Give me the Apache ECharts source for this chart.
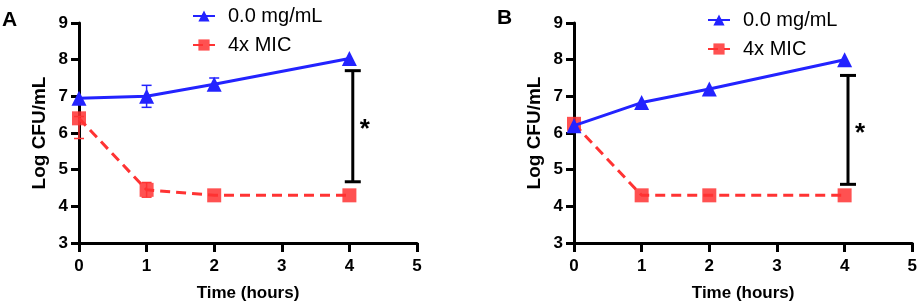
<!DOCTYPE html>
<html>
<head>
<meta charset="utf-8">
<script src="https://cdn.jsdelivr.net/npm/echarts@6/dist/echarts.min.js"></script>
<style>
  html, body { margin: 0; padding: 0; background: #fff; }
  #main { width: 920px; height: 307px; }
</style>
</head>
<body>
<div id="main"></div>
<script>
// time points (hours)
var hours = [0, 1, 2, 4]
var xTicks = [0, 1, 2, 3, 4, 5]
var yTicks = [3, 4, 5, 6, 7, 8, 9]

// panel A
var ctrlA = [6.95, 7.0, 7.33, 8.03]
var ctrlErrA = [[1, 6.7, 7.3], [2, 7.18, 7.5]]
var micA = [6.4, 4.45, 4.3, 4.3]
var micErrA = [[0, 5.85, 6.45], [1, 4.25, 4.65]]
var sigA = [[4.05, 4.67, 7.7]]

// panel B
var ctrlB = [6.2, 6.83, 7.2, 8.0]
var micB = [6.25, 4.3, 4.3, 4.3]
var sigB = [[4.05, 4.6, 7.57]]

var blue = '#2323ff'
var red = '#ff3333'
var font = '"Liberation Sans", Arial, sans-serif'

function pairs (ys) {
  return ys.map(function (v, i) { return [hours[i], v] })
}

function errBar (color, capW, lw, star) {
  return function (params, api) {
    var x = api.value(0)
    var lo = api.coord([x, api.value(1)])
    var hi = api.coord([x, api.value(2)])
    var children = [
      { type: 'line', shape: { x1: lo[0], y1: lo[1], x2: hi[0], y2: hi[1] }, style: { stroke: color, lineWidth: lw } },
      { type: 'line', shape: { x1: lo[0] - capW, y1: lo[1], x2: lo[0] + capW, y2: lo[1] }, style: { stroke: color, lineWidth: lw } },
      { type: 'line', shape: { x1: hi[0] - capW, y1: hi[1], x2: hi[0] + capW, y2: hi[1] }, style: { stroke: color, lineWidth: lw } }
    ]
    if (star) {
      children.push({
        type: 'text',
        style: { text: '*', x: lo[0] + 12, y: (lo[1] + hi[1]) / 2 + 4, fill: '#000', font: 'bold 26px ' + font, textAlign: 'center', textVerticalAlign: 'middle' }
      })
    }
    return { type: 'group', children: children }
  }
}

function xAxisOpt (gi) {
  return {
    type: 'value', gridIndex: gi, min: 0, max: 5, interval: 1,
    name: 'Time (hours)', nameLocation: 'middle', nameGap: 42,
    nameTextStyle: { fontSize: 17, fontWeight: 'bold', color: '#000', fontFamily: font },
    axisLine: { lineStyle: { color: '#000', width: 3 } },
    axisTick: { show: true, length: 9, lineStyle: { width: 3, color: '#000' } },
    axisLabel: { fontSize: 17, fontWeight: 'bold', color: '#000', fontFamily: font, margin: 15 },
    splitLine: { show: false }
  }
}

function yAxisOpt (gi) {
  return {
    type: 'value', gridIndex: gi, min: 3, max: 9, interval: 1,
    name: 'Log CFU/mL', nameLocation: 'middle', nameGap: 30,
    nameTextStyle: { fontSize: 19, fontWeight: 'bold', color: '#000', fontFamily: font },
    axisLine: { show: true, lineStyle: { color: '#000', width: 3 } },
    axisTick: { show: true, length: 8, lineStyle: { width: 3, color: '#000' } },
    axisLabel: { fontSize: 17, fontWeight: 'bold', color: '#000', fontFamily: font, margin: 11 },
    splitLine: { show: false }
  }
}

function lineSeries (name, data, gi, dashed) {
  return {
    name: name, type: 'line', xAxisIndex: gi, yAxisIndex: gi,
    data: pairs(data),
    symbol: dashed ? 'rect' : 'triangle',
    symbolSize: dashed ? 14 : 15,
    z: dashed ? 2 : 4,
    lineStyle: { color: dashed ? red : blue, width: 3, type: dashed ? [10, 6] : 'solid' },
    itemStyle: { color: dashed ? red : blue, opacity: dashed ? 0.85 : 1 },
    animation: false
  }
}

function customSeries (data, gi, color, capW, lw, star) {
  return {
    type: 'custom', xAxisIndex: gi, yAxisIndex: gi,
    renderItem: errBar(color, capW, lw, star),
    data: data, z: 3, silent: true, animation: false
  }
}

var legendBase = {
  orient: 'vertical', itemWidth: 22, itemHeight: 14, itemGap: 9,
  textStyle: { fontSize: 20, color: '#000', fontFamily: font, padding: [0, 0, 0, 8] },
  data: ['0.0 mg/mL', '4x MIC'], selectedMode: false
}

var option = {
  animation: false,
  legend: [
    Object.assign({}, legendBase, { left: 187, top: 1 }),
    Object.assign({}, legendBase, { left: 702, top: 5 })
  ],
  grid: [
    { left: 79, right: 503, top: 23, bottom: 59 },
    { left: 574, right: 5, top: 23, bottom: 59 }
  ],
  xAxis: [xAxisOpt(0), xAxisOpt(1)],
  yAxis: [yAxisOpt(0), yAxisOpt(1)],
  graphic: [
    { type: 'text', left: 2, top: 10, style: { text: 'A', font: 'bold 21px ' + font, fill: '#000' } },
    { type: 'text', left: 497, top: 8, style: { text: 'B', font: 'bold 21px ' + font, fill: '#000' } }
  ],
  series: [
    lineSeries('4x MIC', micA, 0, true),
    lineSeries('0.0 mg/mL', ctrlA, 0, false),
    customSeries(micErrA, 0, red, 5, 1.5, false),
    customSeries(ctrlErrA, 0, blue, 5, 1.5, false),
    customSeries(sigA, 0, '#000', 8, 3, true),
    lineSeries('4x MIC', micB, 1, true),
    lineSeries('0.0 mg/mL', ctrlB, 1, false),
    customSeries(sigB, 1, '#000', 8, 3, true)
  ]
}

var myChart = echarts.init(document.getElementById('main'))
myChart.setOption(option)
</script>
</body>
</html>
